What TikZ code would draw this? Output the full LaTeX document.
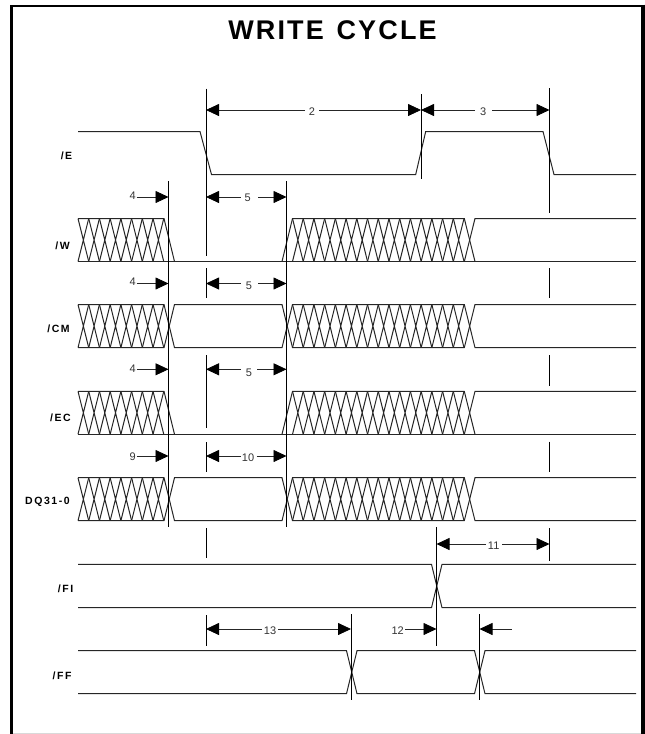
\documentclass[tikz,border=0pt]{standalone}
\usepackage{fontspec}
\setmainfont{Liberation Sans}
\usetikzlibrary{arrows.meta}
\tikzset{
    signal/.style={line width=1pt, black!85},
    marker/.style={line width=1pt, black},
    dimline/.style={line width=.8pt, black!85, -{Triangle[length=13pt, width=12pt, color=black]}},
    dimlabel/.style={font=\fontsize{11}{13}\selectfont, text=black!80, inner sep=0pt},
    signame/.style={font=\fontsize{10.5}{12}\bfseries\addfontfeature{LetterSpace=15}, inner sep=0pt}
}
% x crossings of pitch 10.72 between the two rails
\newcommand{\xfill}[4]{%
    \foreach \k in {1, ..., #4} {
        \draw[signal] (#1 + \k * 10.72 - 10.72, #2) -- (#1 + \k * 10.72, #3)
            (#1 + \k * 10.72 - 10.72, #3) -- (#1 + \k * 10.72, #2);
    }
}
\begin{document}
\begin{tikzpicture}[x=1pt, y=-1pt]
    \useasboundingbox (0, 0) rectangle (645, 734);
    \draw[black!15, line width=1pt] (12, 733) -- (641, 733);
    \draw[line width=2.6pt] (11.3, 734) -- (11.3, 4.7);
    \draw[line width=2pt] (10, 5.7) -- (641, 5.7);
    \draw[line width=4pt] (643, 4.7) -- (643, 734);

    \node (title) at (332.5, 30.5) {\fontsize{27}{32}\bfseries\addfontfeature{LetterSpace=8}WRITE\hspace{3pt} CYCLE};

    % /E
    \node[signame] (nameE) at (66.5, 156) {/E};
    \draw[signal] (78, 131.5) -- (200, 131.5) -- (211.5, 174.5) -- (415.7, 174.5)
        -- (425.7, 131.5) -- (543, 131.5) -- (554, 174.5) -- (636, 174.5);

    % /W
    \node[signame] (nameW) at (62.5, 246) {/W};
    \xfill{78}{218.5}{261.5}{8}
    \xfill{292.5}{218.5}{261.5}{16}
    \draw[signal] (78, 218.5) -- (164, 218.5) -- (174.5, 261.5);
    \draw[signal] (78, 261.5) -- (636, 261.5);
    \draw[signal] (282, 261.5) -- (292.5, 218.5) -- (464.3, 218.5) -- (475, 261.5);
    \draw[signal] (464.3, 261.5) -- (475, 218.5) -- (636, 218.5);

    % /CM
    \node[signame] (nameCM) at (58.5, 329) {/CM};
    \xfill{78}{304.5}{347.7}{8}
    \xfill{292.5}{304.5}{347.7}{16}
    \draw[signal] (78, 304.5) -- (164, 304.5) -- (174.5, 347.7) -- (282, 347.7) -- (292.5, 304.5)
        -- (464.3, 304.5) -- (475, 347.7) -- (636, 347.7);
    \draw[signal] (78, 347.7) -- (164, 347.7) -- (174.5, 304.5) -- (282, 304.5) -- (292.5, 347.7)
        -- (464.3, 347.7) -- (475, 304.5) -- (636, 304.5);

    % /EC
    \node[signame] (nameEC) at (60.5, 418) {/EC};
    \xfill{78}{391.3}{434.3}{8}
    \xfill{292.5}{391.3}{434.3}{16}
    \draw[signal] (78, 391.3) -- (164, 391.3) -- (174.5, 434.3);
    \draw[signal] (78, 434.3) -- (636, 434.3);
    \draw[signal] (282, 434.3) -- (292.5, 391.3) -- (464.3, 391.3) -- (475, 434.3);
    \draw[signal] (464.3, 434.3) -- (475, 391.3) -- (636, 391.3);

    % DQ31-0
    \node[signame] (nameDQ) at (47.5, 502) {DQ31-0};
    \xfill{78}{477.7}{520.7}{8}
    \xfill{292.5}{477.7}{520.7}{16}
    \draw[signal] (78, 477.7) -- (164, 477.7) -- (174.5, 520.7) -- (282, 520.7) -- (292.5, 477.7)
        -- (464.3, 477.7) -- (475, 520.7) -- (636, 520.7);
    \draw[signal] (78, 520.7) -- (164, 520.7) -- (174.5, 477.7) -- (282, 477.7) -- (292.5, 520.7)
        -- (464.3, 520.7) -- (475, 477.7) -- (636, 477.7);

    % /FI
    \node[signame] (nameFI) at (65.5, 589) {/FI};
    \draw[signal] (78, 564.3) -- (431.5, 564.3) -- (442, 607.7) -- (636, 607.7);
    \draw[signal] (78, 607.7) -- (431.5, 607.7) -- (442, 564.3) -- (636, 564.3);

    % /FF
    \node[signame] (nameFF) at (62, 676) {/FF};
    \draw[signal] (78, 650.7) -- (346.5, 650.7) -- (357, 693.7) -- (474.5, 693.7) -- (485, 650.7) -- (636, 650.7);
    \draw[signal] (78, 693.7) -- (346.5, 693.7) -- (357, 650.7) -- (474.5, 650.7) -- (485, 693.7) -- (636, 693.7);

    % reference lines
    \draw[marker] (168.5, 181) -- (168.5, 527);
    \draw[marker] (286.5, 181) -- (286.5, 527);
    \draw[marker] (206, 88.5) -- (206, 256) (206, 268) -- (206, 298) (206, 355) -- (206, 428)
        (206, 442) -- (206, 472) (206, 528) -- (206, 558) (206, 615) -- (206, 646);
    \draw[marker] (421, 94) -- (421, 178.7);
    \draw[marker] (549.5, 88) -- (549.5, 212.7) (549.5, 268) -- (549.5, 298) (549.5, 355) -- (549.5, 385.7)
        (549.5, 441.7) -- (549.5, 472) (549.5, 528) -- (549.5, 560.5);
    \draw[marker] (436.5, 527) -- (436.5, 646);
    \draw[marker] (351, 614) -- (351, 700);
    \draw[marker] (479.5, 614) -- (479.5, 700);

    % timing labels, each with its arrows
    \node[dimlabel] (t2) at (312, 112) {2};
    \draw[dimline] (305, 110) -- (206, 110);
    \draw[dimline] (319, 110) -- (421, 110);

    \node[dimlabel] (t3) at (483.3, 112) {3};
    \draw[dimline] (475, 110) -- (421, 110);
    \draw[dimline] (492, 110) -- (549.5, 110);

    \node[dimlabel] (t4a) at (132.7, 196) {4};
    \draw[dimline] (136.7, 197) -- (168.5, 197);
    \node[dimlabel] (t5a) at (247.7, 198) {5};
    \draw[dimline] (240.7, 197) -- (206, 197);
    \draw[dimline] (258.3, 197) -- (286.5, 197);

    \node[dimlabel] (t4b) at (132.7, 282) {4};
    \draw[dimline] (136.7, 283.5) -- (168.5, 283.5);
    \node[dimlabel] (t5b) at (249, 285.7) {5};
    \draw[dimline] (240.7, 283.5) -- (206, 283.5);
    \draw[dimline] (258.3, 283.5) -- (286.5, 283.5);

    \node[dimlabel] (t4c) at (132.7, 368.7) {4};
    \draw[dimline] (136.7, 369.3) -- (168.5, 369.3);
    \node[dimlabel] (t5c) at (249, 372.3) {5};
    \draw[dimline] (240.7, 369.3) -- (206, 369.3);
    \draw[dimline] (257, 369.3) -- (286.5, 369.3);

    \node[dimlabel] (t9) at (132.7, 456.7) {9};
    \draw[dimline] (136.7, 456) -- (168.5, 456);
    \node[dimlabel] (t10) at (248, 457.7) {10};
    \draw[dimline] (240.7, 456) -- (206, 456);
    \draw[dimline] (256.7, 456) -- (286.5, 456);

    \node[dimlabel] (t11) at (493.7, 545.3) {11};
    \draw[dimline] (486, 544) -- (436.5, 544);
    \draw[dimline] (502, 544) -- (549.5, 544);

    \node[dimlabel] (t13) at (270, 630.7) {13};
    \draw[dimline] (262, 629) -- (206, 629);
    \draw[dimline] (278, 629) -- (351, 629);

    \node[dimlabel] (t12) at (397.7, 630.7) {12};
    \draw[dimline] (405, 629) -- (436.5, 629);
    \coordinate (tailFF) at (511.7, 629);
    \draw[dimline] (tailFF) -- (479.5, 629);
\end{tikzpicture}
\end{document}
